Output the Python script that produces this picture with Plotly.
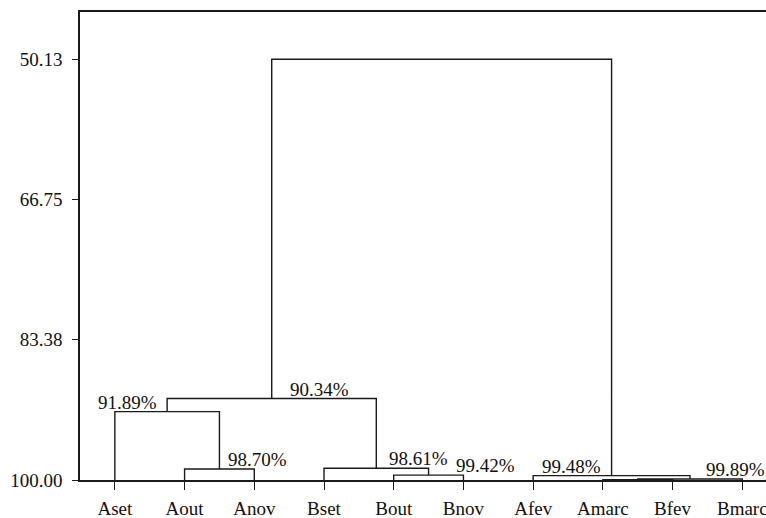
import plotly.graph_objects as go

# ---- data ----
leaves = ["Aset", "Aout", "Anov", "Bset", "Bout", "Bnov", "Afev", "Amarc", "Bfev", "Bmarc"]
# merges: (left node, right node, similarity %) ; nodes 0-9 are leaves, 10+ are merges in order
merge_left = [1, 0, 4, 3, 11, 7, 15, 6, 14]
merge_right = [2, 10, 5, 12, 13, 8, 9, 16, 17]
merge_height = [98.70, 91.89, 99.42, 98.61, 90.34, 99.97, 99.89, 99.48, 50.13]
merge_label = ["98.70%", "91.89%", "99.42%", "98.61%", "90.34%", "", "99.89%", "99.48%", ""]
y_ticks = [50.13, 66.75, 83.38, 100.00]
y_ticktext = ["50.13", "66.75", "83.38", "100.00"]

# ---- styling of labels (anchor side, pixel shift) ----
label_style = {
    0: ("left", 7), 1: ("right", -8), 2: ("left", 25), 3: ("left", 11),
    4: ("left", 16), 6: ("left", 14), 7: ("right", -9),
}

n = len(leaves)
pos = {i: (float(i), 100.0) for i in range(n)}
xs, ys = [], []
for k, (a, b, h) in enumerate(zip(merge_left, merge_right, merge_height)):
    xa, ha = pos[a]
    xb, hb = pos[b]
    xs += [xa, xa, xb, xb, None]
    ys += [ha, h, h, hb, None]
    pos[n + k] = ((xa + xb) / 2, h)

FONT = "Liberation Serif, Times New Roman, serif"
fig = go.Figure()
fig.add_trace(go.Scatter(x=xs, y=ys, mode="lines",
                         line=dict(color="#1a1a1a", width=1.4),
                         hoverinfo="skip", showlegend=False, cliponaxis=False))

for k, lab in enumerate(merge_label):
    if not lab:
        continue
    cx, h = pos[n + k]
    side, shift = label_style[k]
    fig.add_annotation(x=cx, y=h, text=lab, showarrow=False,
                       xanchor=side, yanchor="bottom", xshift=shift, yshift=-3,
                       font=dict(family=FONT, size=19, color="#111"))

fig.update_layout(
    width=766, height=518,
    margin=dict(l=80, r=0, t=12, b=38),
    plot_bgcolor="white", paper_bgcolor="white",
    showlegend=False,
    font=dict(family=FONT, size=19, color="#111"),
)
fig.update_xaxes(
    range=[-0.5, 9.34], tickmode="array", tickvals=list(range(n)), ticktext=leaves,
    showgrid=False, zeroline=False, showline=True, linecolor="#1a1a1a", linewidth=1.6,
    mirror=True, ticks="outside", ticklen=8, tickwidth=1.3, tickcolor="#1a1a1a",
    ticklabelstandoff=2, automargin=False, ticklabeloverflow="allow",
)
fig.update_yaxes(
    range=[100, 44.53], tickmode="array", tickvals=y_ticks, ticktext=y_ticktext,
    showgrid=False, zeroline=False, showline=True, linecolor="#1a1a1a", linewidth=1.6,
    mirror=False, ticks="outside", ticklen=6, tickwidth=1.3, tickcolor="#1a1a1a",
    ticklabelstandoff=6, automargin=False,
)

fig.write_html("out.html", config={"displayModeBar": False},
               post_script="document.body.style.margin='0';document.body.style.overflow='hidden';")
